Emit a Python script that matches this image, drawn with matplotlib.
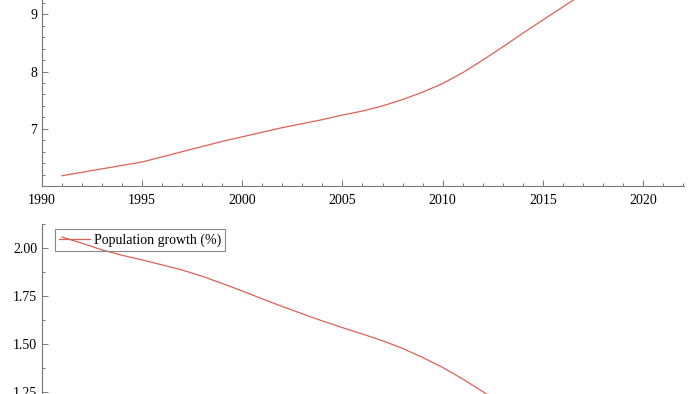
import numpy as np
import matplotlib.pyplot as plt
from matplotlib.ticker import MultipleLocator

years = list(range(1991, 2018))
population = [6.18, 6.24, 6.30, 6.36, 6.42, 6.51, 6.60, 6.69, 6.78, 6.86,
              6.94, 7.02, 7.09, 7.16, 7.24, 7.31, 7.40, 7.51, 7.64, 7.79,
              7.98, 8.20, 8.43, 8.67, 8.90, 9.13, 9.36]

growth_years = list(range(1991, 2014))
growth = [2.057, 2.025, 1.99, 1.962, 1.938, 1.912, 1.885, 1.853, 1.815, 1.776,
          1.735, 1.695, 1.657, 1.62, 1.585, 1.552, 1.517, 1.477, 1.43, 1.378,
          1.318, 1.252, 1.185]

xticks = [1990, 1995, 2000, 2005, 2010, 2015, 2020]

plt.rcParams['font.family'] = ['Liberation Serif', 'DejaVu Serif']
col = '#dc6158'
axcol = '#777777'

fig = plt.figure(figsize=(7, 3.94), dpi=100)


def style(ax):
    for s in ['top', 'right']:
        ax.spines[s].set_visible(False)
    for s in ['left', 'bottom']:
        ax.spines[s].set_color(axcol)
        ax.spines[s].set_linewidth(0.8)
    ax.tick_params(which='both', direction='in', color=axcol, labelsize=10,
                   labelcolor='black', width=0.7)
    ax.tick_params(which='major', length=4)
    ax.tick_params(which='minor', length=2)


# top panel
ax1 = fig.add_axes([42/700, (394-186)/394, 642/700, 206/394])
ax1.plot(years, population, color=col, lw=0.9)
ax1.set_xlim(1990, 2022.05)
ax1.set_ylim(6.0, 9.6)
ax1.set_xticks(xticks)
ax1.xaxis.set_minor_locator(MultipleLocator(1))
ax1.set_yticks([7, 8, 9])
ax1.yaxis.set_minor_locator(MultipleLocator(0.2))
style(ax1)
ax1.tick_params(axis='x', pad=6)

# bottom panel
ax2 = fig.add_axes([42/700, (394-440)/394, 642/700, 216/394])
ax2.plot(growth_years, growth, color=col, lw=0.9, label='Population growth (%)')
ax2.set_xlim(1990, 2022.05)
ax2.set_ylim(1.0, 2.125)
ax2.set_yticks([1.25, 1.50, 1.75, 2.00])
ax2.set_yticklabels(['1.25', '1.50', '1.75', '2.00'])
ax2.yaxis.set_minor_locator(MultipleLocator(0.125))
ax2.set_xticks([])
style(ax2)
leg = ax2.legend(loc='upper left', bbox_to_anchor=(0.02, 0.975), frameon=True,
                 fancybox=False, framealpha=1, facecolor='none',
                 edgecolor='#888888', fontsize=10, handlelength=2.2,
                 borderpad=0.3, handletextpad=0.3, borderaxespad=0)
leg.get_frame().set_linewidth(0.8)

plt.savefig('out.png', dpi=100)
